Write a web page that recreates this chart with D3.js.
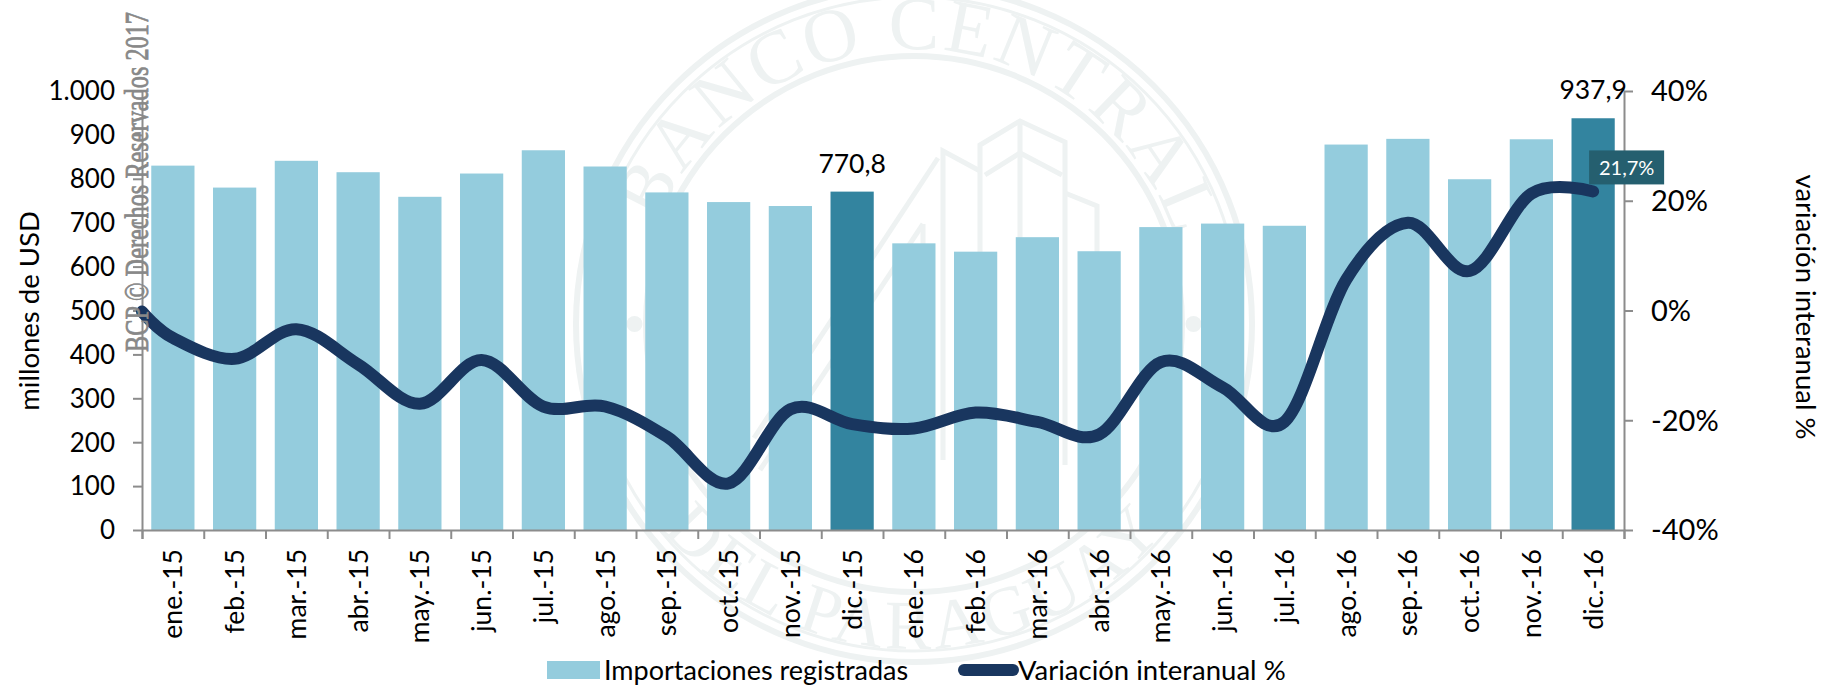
<!DOCTYPE html>
<html><head><meta charset="utf-8">
<script src="https://cdn.jsdelivr.net/npm/d3@7"></script>
<style>
html,body{margin:0;padding:0;background:#fff;overflow:hidden}
svg{display:block}
text{font-family:Lato,"Open Sans",sans-serif;fill:#000}
</style></head><body><div id="c"></div>
<script>
const categories=["ene.-15","feb.-15","mar.-15","abr.-15","may.-15","jun.-15","jul.-15","ago.-15","sep.-15","oct.-15","nov.-15","dic.-15","ene.-16","feb.-16","mar.-16","abr.-16","may.-16","jun.-16","jul.-16","ago.-16","sep.-16","oct.-16","nov.-16","dic.-16"];
const importValues=[830,780,841,815,759,812,865,828,769,747,738,770.8,653,634,667,635,690,698,693,878,891,799,890,937.9];
const variationStart=-0.2;
const variationValues=[-5,-8.8,-3.4,-9.8,-17,-9,-17.5,-17.5,-23,-31.5,-18,-20.7,-21.5,-18.6,-20.3,-22.6,-9.4,-14,-20.3,5.6,16,7.2,21.3,21.7];
const leftTicks=[0,100,200,300,400,500,600,700,800,900,1000];
const leftTickLabels=["0","100","200","300","400","500","600","700","800","900","1.000"];
const rightTicks=[-40,-20,0,20,40];
const highlighted=["dic.-15","dic.-16"];
const barLabels={"dic.-15":"770,8","dic.-16":"937,9"};

const W=1825,H=687,L=142,R=1624,T=91,B=530;
const svg=d3.select("#c").append("svg").attr("width",W).attr("height",H);

// Watermark seal
const wmColor="#eef2f2";
const wm=svg.append("g").attr("fill","none").attr("stroke",wmColor);
const cx=914,cy=324;
[[338,6],[327,3],[268,6]].forEach(([r,s])=>wm.append("circle").attr("cx",cx).attr("cy",cy).attr("r",r).attr("stroke-width",s));
[-279.5,279.5].forEach(dx=>svg.append("circle").attr("cx",cx+dx).attr("cy",cy).attr("r",8).attr("fill",wmColor));
const defs=svg.append("defs");
defs.append("path").attr("id","arcTop").attr("d",`M${cx-275},${cy} A275,275 0 0 1 ${cx+275},${cy}`);
defs.append("path").attr("id","arcBot").attr("d",`M${cx-325},${cy} A325,325 0 0 0 ${cx+325},${cy}`);
svg.append("text").attr("font-size",76).style("font-family","Liberation Serif").style("fill",wmColor)
 .append("textPath").attr("href","#arcTop").attr("startOffset","51%").attr("text-anchor","middle").attr("letter-spacing",3).text("BANCO CENTRAL");
svg.append("text").attr("font-size",70).style("font-family","Liberation Serif").style("fill",wmColor)
 .append("textPath").attr("href","#arcBot").attr("startOffset","50%").attr("text-anchor","middle").attr("letter-spacing",4).text("DEL PARAGUAY");
const building=[
 [[980,465],[980,145],[1020,121],[1065,142],[1065,465]],
 [[1020,121],[1020,465]],
 [[985,175],[1020,153],[1062,175]],
 [[943,460],[943,151],[980,171]],
 [[1065,193],[1097,206],[1097,440]],
 [[938,158],[754,438]],
 [[923,224],[760,470]],
 [[923,224],[923,470]]
];
building.forEach(p=>wm.append("path").attr("stroke-width",5).attr("d",d3.line()(p)));

const x=d3.scaleBand().domain(categories).range([L,R]).paddingInner(0.3).paddingOuter(0.15);
const xLine=d3.scaleLinear().domain([-0.5,categories.length-0.5]).range([L,R]);
const yL=d3.scaleLinear().domain([0,1000]).range([B,T]);
const yR=d3.scaleLinear().domain([-40,40]).range([B,T]);

svg.append("g").selectAll("rect").data(categories).join("rect")
 .attr("x",d=>x(d)).attr("width",x.bandwidth())
 .attr("y",(d,i)=>yL(importValues[i])).attr("height",(d,i)=>B-yL(importValues[i]))
 .attr("fill",d=>highlighted.includes(d)?"#33849f":"#94ccdd");

// Axes
const axisColor="#8c8c8c",axisW=2;
const gB=svg.append("g").attr("transform",`translate(0,${B})`);
gB.call(d3.axisBottom(d3.scaleLinear().domain([0,categories.length]).range([L,R])).ticks(categories.length).tickSizeOuter(0).tickSize(9).tickFormat(""));
const gL=svg.append("g").attr("transform",`translate(${L},0)`);
gL.call(d3.axisLeft(yL).tickValues(leftTicks).tickSize(9).tickSizeOuter(0).tickFormat(""));
const gR=svg.append("g").attr("transform",`translate(${R},0)`);
gR.call(d3.axisRight(yR).tickValues(rightTicks).tickSize(9).tickSizeOuter(0).tickFormat(""));
[gB,gL,gR].forEach(g=>{g.selectAll("path,line").attr("stroke",axisColor).attr("stroke-width",axisW);});

// Tick labels
svg.append("g").selectAll("text").data(leftTicks).join("text")
 .attr("x",L-27).attr("y",d=>yL(d)).attr("dy","0.36em").attr("text-anchor","end")
 .attr("font-size",26).text((d,i)=>leftTickLabels[i]);
svg.append("g").selectAll("text").data(rightTicks).join("text")
 .attr("x",R+27).attr("y",d=>yR(d)).attr("dy","0.36em")
 .attr("font-size",29).text(d=>d+"%");
svg.append("g").selectAll("text").data(categories).join("text")
 .attr("transform",d=>`translate(${x(d)+x.bandwidth()/2},${B+19}) rotate(-90)`)
 .attr("dy","0.36em").attr("text-anchor","end").attr("font-size",26.5).text(d=>d);

// Axis titles
svg.append("text").attr("transform",`translate(29,311) rotate(-90)`).attr("text-anchor","middle").attr("dy","0.36em").attr("font-size",27.5).text("millones de USD");
svg.append("text").attr("transform",`translate(1806,307) rotate(90)`).attr("text-anchor","middle").attr("dy","0.36em").attr("font-size",27.5).text("variación interanual %");

// Line
const lineData=[[-0.5,variationStart]].concat(variationValues.map((v,i)=>[i,v]));
svg.append("path").datum(lineData).attr("fill","none").attr("stroke","#19365f").attr("stroke-width",12).attr("stroke-linecap","round")
 .attr("d",d3.line().x(d=>xLine(d[0])).y(d=>yR(d[1])).curve(d3.curveCardinal.tension(0)));

// Bar labels
svg.append("g").selectAll("text").data(categories.filter(c=>barLabels[c])).join("text")
 .attr("x",d=>x(d)+x.bandwidth()/2).attr("y",d=>yL(importValues[categories.indexOf(d)])-19)
 .attr("text-anchor","middle").attr("font-size",26.5).text(d=>barLabels[d]);

// Callout
const last=categories.length-1;
const cbX=xLine(last)-4,cbY=yR(variationValues[last])-41;
svg.append("rect").attr("x",cbX).attr("y",cbY).attr("width",75).attr("height",34).attr("fill","#255f6f");
svg.append("text").attr("x",cbX+37.5).attr("y",cbY+17).attr("dy","0.36em").attr("text-anchor","middle").attr("font-size",20).style("fill","#fff").text("21,7%");

// Legend
svg.append("rect").attr("x",547).attr("y",661).attr("width",53).attr("height",18).attr("fill","#94ccdd");
svg.append("text").attr("x",604).attr("y",670).attr("dy","0.36em").attr("font-size",27).text("Importaciones registradas");
svg.append("line").attr("x1",964).attr("x2",1013).attr("y1",670).attr("y2",670).attr("stroke","#19365f").attr("stroke-width",12).attr("stroke-linecap","round");
svg.append("text").attr("x",1018).attr("y",670).attr("dy","0.36em").attr("font-size",27.5).text("Variación interanual %");

// Copyright watermark
svg.append("text").attr("transform","translate(148,352) rotate(-90)").attr("font-size",34)
 .attr("textLength",340).attr("lengthAdjust","spacingAndGlyphs")
 .style("font-family","Liberation Serif").style("fill","#888").style("stroke","#888").style("stroke-width",0.8).text("BCP © Derechos Reservados 2017");
</script></body></html>
